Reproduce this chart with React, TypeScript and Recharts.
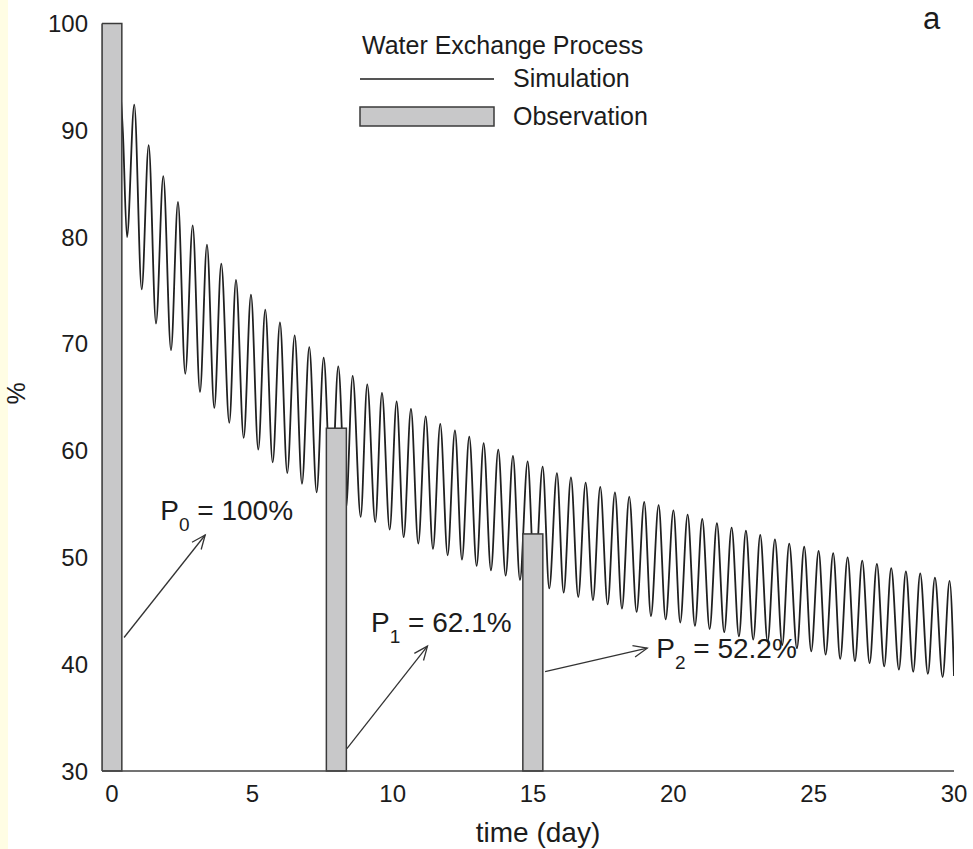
import {
  ComposedChart,
  Line,
  Bar,
  XAxis,
  YAxis,
  Legend,
  ReferenceLine,
  ReferenceDot,
} from 'recharts';

// Simulated water exchange (%), read at each tidal high and low water
const peakDays = [
  0.794, 1.307, 1.828, 2.351, 2.875, 3.384, 3.894, 4.418, 4.952, 5.461,
  5.985, 6.509, 7.029, 7.542, 8.062, 8.575, 9.095, 9.619, 10.142, 10.652,
  11.176, 11.696, 12.219, 12.729, 13.242, 13.762, 14.286, 14.809, 15.344, 15.853,
  16.352, 16.876, 17.396, 17.92, 18.429, 18.963, 19.476, 20.004, 20.51, 21.03,
  21.553, 22.077, 22.586, 23.096, 23.62, 24.129, 24.663, 25.176, 25.696, 26.21,
  26.73, 27.253, 27.763, 28.286, 28.796, 29.32, 29.843,
];
const peakPct = [
  92.4, 88.6, 85.7, 83.3, 81.1, 79.3, 77.5, 76.0, 74.6, 73.2,
  72.0, 70.8, 69.7, 68.7, 67.9, 67.0, 66.2, 65.4, 64.6, 63.9,
  63.2, 62.5, 61.9, 61.3, 60.7, 60.1, 59.5, 59.0, 58.5, 57.9,
  57.5, 57.0, 56.6, 56.1, 55.7, 55.2, 54.9, 54.4, 54.0, 53.6,
  53.2, 52.8, 52.5, 52.1, 51.7, 51.3, 51.0, 50.6, 50.4, 50.0,
  49.7, 49.4, 49.0, 48.7, 48.5, 48.1, 47.8,
];
const troughDays = [
  0.534, 1.058, 1.568, 2.102, 2.611, 3.135, 3.645, 4.179, 4.692, 5.212,
  5.725, 6.245, 6.769, 7.292, 7.813, 8.336, 8.86, 9.38, 9.893, 10.392,
  10.912, 11.436, 11.959, 12.469, 12.992, 13.502, 14.026, 14.535, 15.059, 15.579,
  16.092, 16.612, 17.136, 17.659, 18.169, 18.692, 19.202, 19.726, 20.246, 20.77,
  21.293, 21.813, 22.337, 22.847, 23.36, 23.88, 24.403, 24.913, 25.426, 25.946,
  26.47, 26.993, 27.513, 28.037, 28.546, 29.07, 29.594,
];
const troughPct = [
  80.0, 75.1, 71.9, 69.4, 67.2, 65.5, 64.0, 62.6, 61.2, 60.1,
  58.9, 57.9, 56.9, 56.1, 55.4, 54.6, 53.8, 53.3, 52.6, 51.9,
  51.3, 50.8, 50.2, 49.8, 49.2, 48.8, 48.3, 47.9, 47.5, 47.1,
  46.7, 46.3, 46.0, 45.6, 45.2, 44.9, 44.5, 44.2, 43.9, 43.6,
  43.3, 43.0, 42.6, 42.3, 42.1, 41.8, 41.5, 41.2, 40.9, 40.5,
  40.3, 40.1, 39.8, 39.5, 39.3, 39.1, 38.8,
];
// start and end of the simulated run
const edgeDays = [0, 0.39, 30];
const edgePct = [100, 89.7, 38.9];

// observed exchange
const obsDays = [0, 8, 15];
const obsPct = [100, 62.1, 52.2];

const xTicks = [0, 5, 10, 15, 20, 25, 30];
const yTicks = [30, 40, 50, 60, 70, 80, 90, 100];

// P_i annotations: text anchor and arrow ends, in (day, %)
const noteAt = [[1.72, 53.5], [9.23, 43.0], [19.39, 40.6]];
const arrowFrom = [[0.43, 42.5], [8.37, 32.1], [15.43, 39.3]];
const arrowTo = [[3.32, 52.1], [11.24, 41.7], [19.07, 41.5]];

const FONT = '"Liberation Sans", Arial, Helvetica, sans-serif';
const INK = '#1c1c1c';
const BAR_FILL = '#c8c8c9';
const BAR_EDGE = '#3a3a3a';

type Row = { t: number; sim?: number; obs?: number };

const rowMap = new Map<number, Row>();
const put = (t: number, key: 'sim' | 'obs', v: number) => {
  const r = rowMap.get(t) ?? { t };
  r[key] = v;
  rowMap.set(t, r);
};
edgeDays.forEach((t, i) => put(t, 'sim', edgePct[i]));
peakDays.forEach((t, i) => put(t, 'sim', peakPct[i]));
troughDays.forEach((t, i) => put(t, 'sim', troughPct[i]));
obsDays.forEach((t, i) => put(t, 'obs', obsPct[i]));
const data = [...rowMap.values()].sort((a, b) => a.t - b.t);

// fixed-width observation bar centred on its day
function ObsBar(p: any) {
  if (p.payload?.obs == null || !Number.isFinite(p.height)) return null;
  const cx = p.x + p.width / 2;
  return (
    <rect
      x={cx - 10}
      y={p.y}
      width={20}
      height={p.height}
      fill={BAR_FILL}
      stroke={BAR_EDGE}
      strokeWidth={1.5}
    />
  );
}

function Arrow(p: any) {
  const { x1, y1, x2, y2 } = p;
  const a = Math.atan2(y2 - y1, x2 - x1);
  const len = 15;
  const spread = 0.4;
  const h1 = `${x2 - len * Math.cos(a - spread)},${y2 - len * Math.sin(a - spread)}`;
  const h2 = `${x2 - len * Math.cos(a + spread)},${y2 - len * Math.sin(a + spread)}`;
  return (
    <g stroke="#333" strokeWidth={1.3} fill="none">
      <line x1={x1} y1={y1} x2={x2} y2={y2} />
      <polyline points={`${h1} ${x2},${y2} ${h2}`} />
    </g>
  );
}

const noteShape = (i: number) => (p: any) => (
  <text x={p.cx} y={p.cy} fontSize={28} fontFamily={FONT} fill={INK}>
    P
    <tspan dy={11} fontSize={19}>
      {i}
    </tspan>
    <tspan dy={-11}>{` = ${obsPct[i]}%`}</tspan>
  </text>
);

function LegendBox(props: any) {
  const items = props.payload ?? [];
  const sim = items.find((d: any) => d.dataKey === 'sim');
  const obs = items.find((d: any) => d.dataKey === 'obs');
  return (
    <svg width={320} height={110} style={{ display: 'block', fontFamily: FONT }}>
      <text x={22} y={29} fontSize={25} fill={INK}>
        Water Exchange Process
      </text>
      <line x1={20} y1={54} x2={154} y2={54} stroke={INK} strokeWidth={1.3} />
      <text x={173} y={62} fontSize={25} fill={INK}>
        {sim?.value ?? 'Simulation'}
      </text>
      <rect x={20} y={82} width={134} height={19} fill={BAR_FILL} stroke={BAR_EDGE} strokeWidth={1.5} />
      <text x={173} y={100} fontSize={25} fill={INK}>
        {obs?.value ?? 'Observation'}
      </text>
    </svg>
  );
}

export default function App() {
  return (
    <div style={{ position: 'absolute', left: 0, top: 0, width: 973, height: 849, background: '#fff' }}>
      <div style={{ position: 'absolute', left: 0, top: 0, width: 8, height: 849, background: '#fffde4' }} />
      <ComposedChart
        width={973}
        height={849}
        data={data}
        margin={{ top: 23.5, right: 19, bottom: 0, left: 0 }}
        style={{ fontFamily: FONT }}
      >
        <XAxis
          type="number"
          dataKey="t"
          domain={[-0.356, 30]}
          ticks={xTicks}
          allowDataOverflow
          height={78}
          tickLine={false}
          tickSize={0}
          tickMargin={14}
          axisLine={{ stroke: '#444', strokeWidth: 1.5 }}
          tick={{ fontSize: 24, fill: INK, fontFamily: FONT }}
          label={{
            value: 'time (day)',
            position: 'insideBottom',
            offset: 7,
            dx: 10,
            fontSize: 28,
            fill: INK,
            fontFamily: FONT,
          }}
        />
        <YAxis
          type="number"
          domain={[30, 100]}
          ticks={yTicks}
          width={102}
          tickLine={false}
          tickSize={0}
          tickMargin={14}
          axisLine={{ stroke: '#444', strokeWidth: 1.5 }}
          tick={{ fontSize: 24, fill: INK, fontFamily: FONT }}
          label={{
            value: '%',
            angle: -90,
            position: 'insideLeft',
            offset: 16,
            dy: -4,
            fontSize: 25,
            fill: INK,
            fontFamily: FONT,
            style: { textAnchor: 'middle' },
          }}
        />
        <Legend
          layout="vertical"
          align="center"
          verticalAlign="middle"
          content={<LegendBox />}
          wrapperStyle={{ top: 25, left: 340, width: 320, height: 110 }}
        />
        <Line
          type="monotone"
          dataKey="sim"
          name="Simulation"
          stroke="#202020"
          strokeWidth={1.8}
          dot={false}
          activeDot={false}
          connectNulls
          zIndex={100}
          isAnimationActive={false}
        />
        <Bar
          dataKey="obs"
          name="Observation"
          fill={BAR_FILL}
          shape={<ObsBar />}
          zIndex={450}
          isAnimationActive={false}
        />
        {arrowFrom.map((f, i) => (
          <ReferenceLine
            key={`arrow-${i}`}
            segment={[
              { x: f[0], y: f[1] },
              { x: arrowTo[i][0], y: arrowTo[i][1] },
            ]}
            shape={Arrow}
            ifOverflow="visible"
          />
        ))}
        {noteAt.map((n, i) => (
          <ReferenceDot
            key={`note-${i}`}
            x={n[0]}
            y={n[1]}
            r={0}
            shape={noteShape(i)}
            ifOverflow="visible"
          />
        ))}
      </ComposedChart>
      <svg style={{ position: 'absolute', left: 0, top: 0, pointerEvents: 'none' }} width={973} height={40}>
        <text x={923} y={29} fontSize={31} fontFamily={FONT} fill={INK}>
          a
        </text>
      </svg>
    </div>
  );
}
